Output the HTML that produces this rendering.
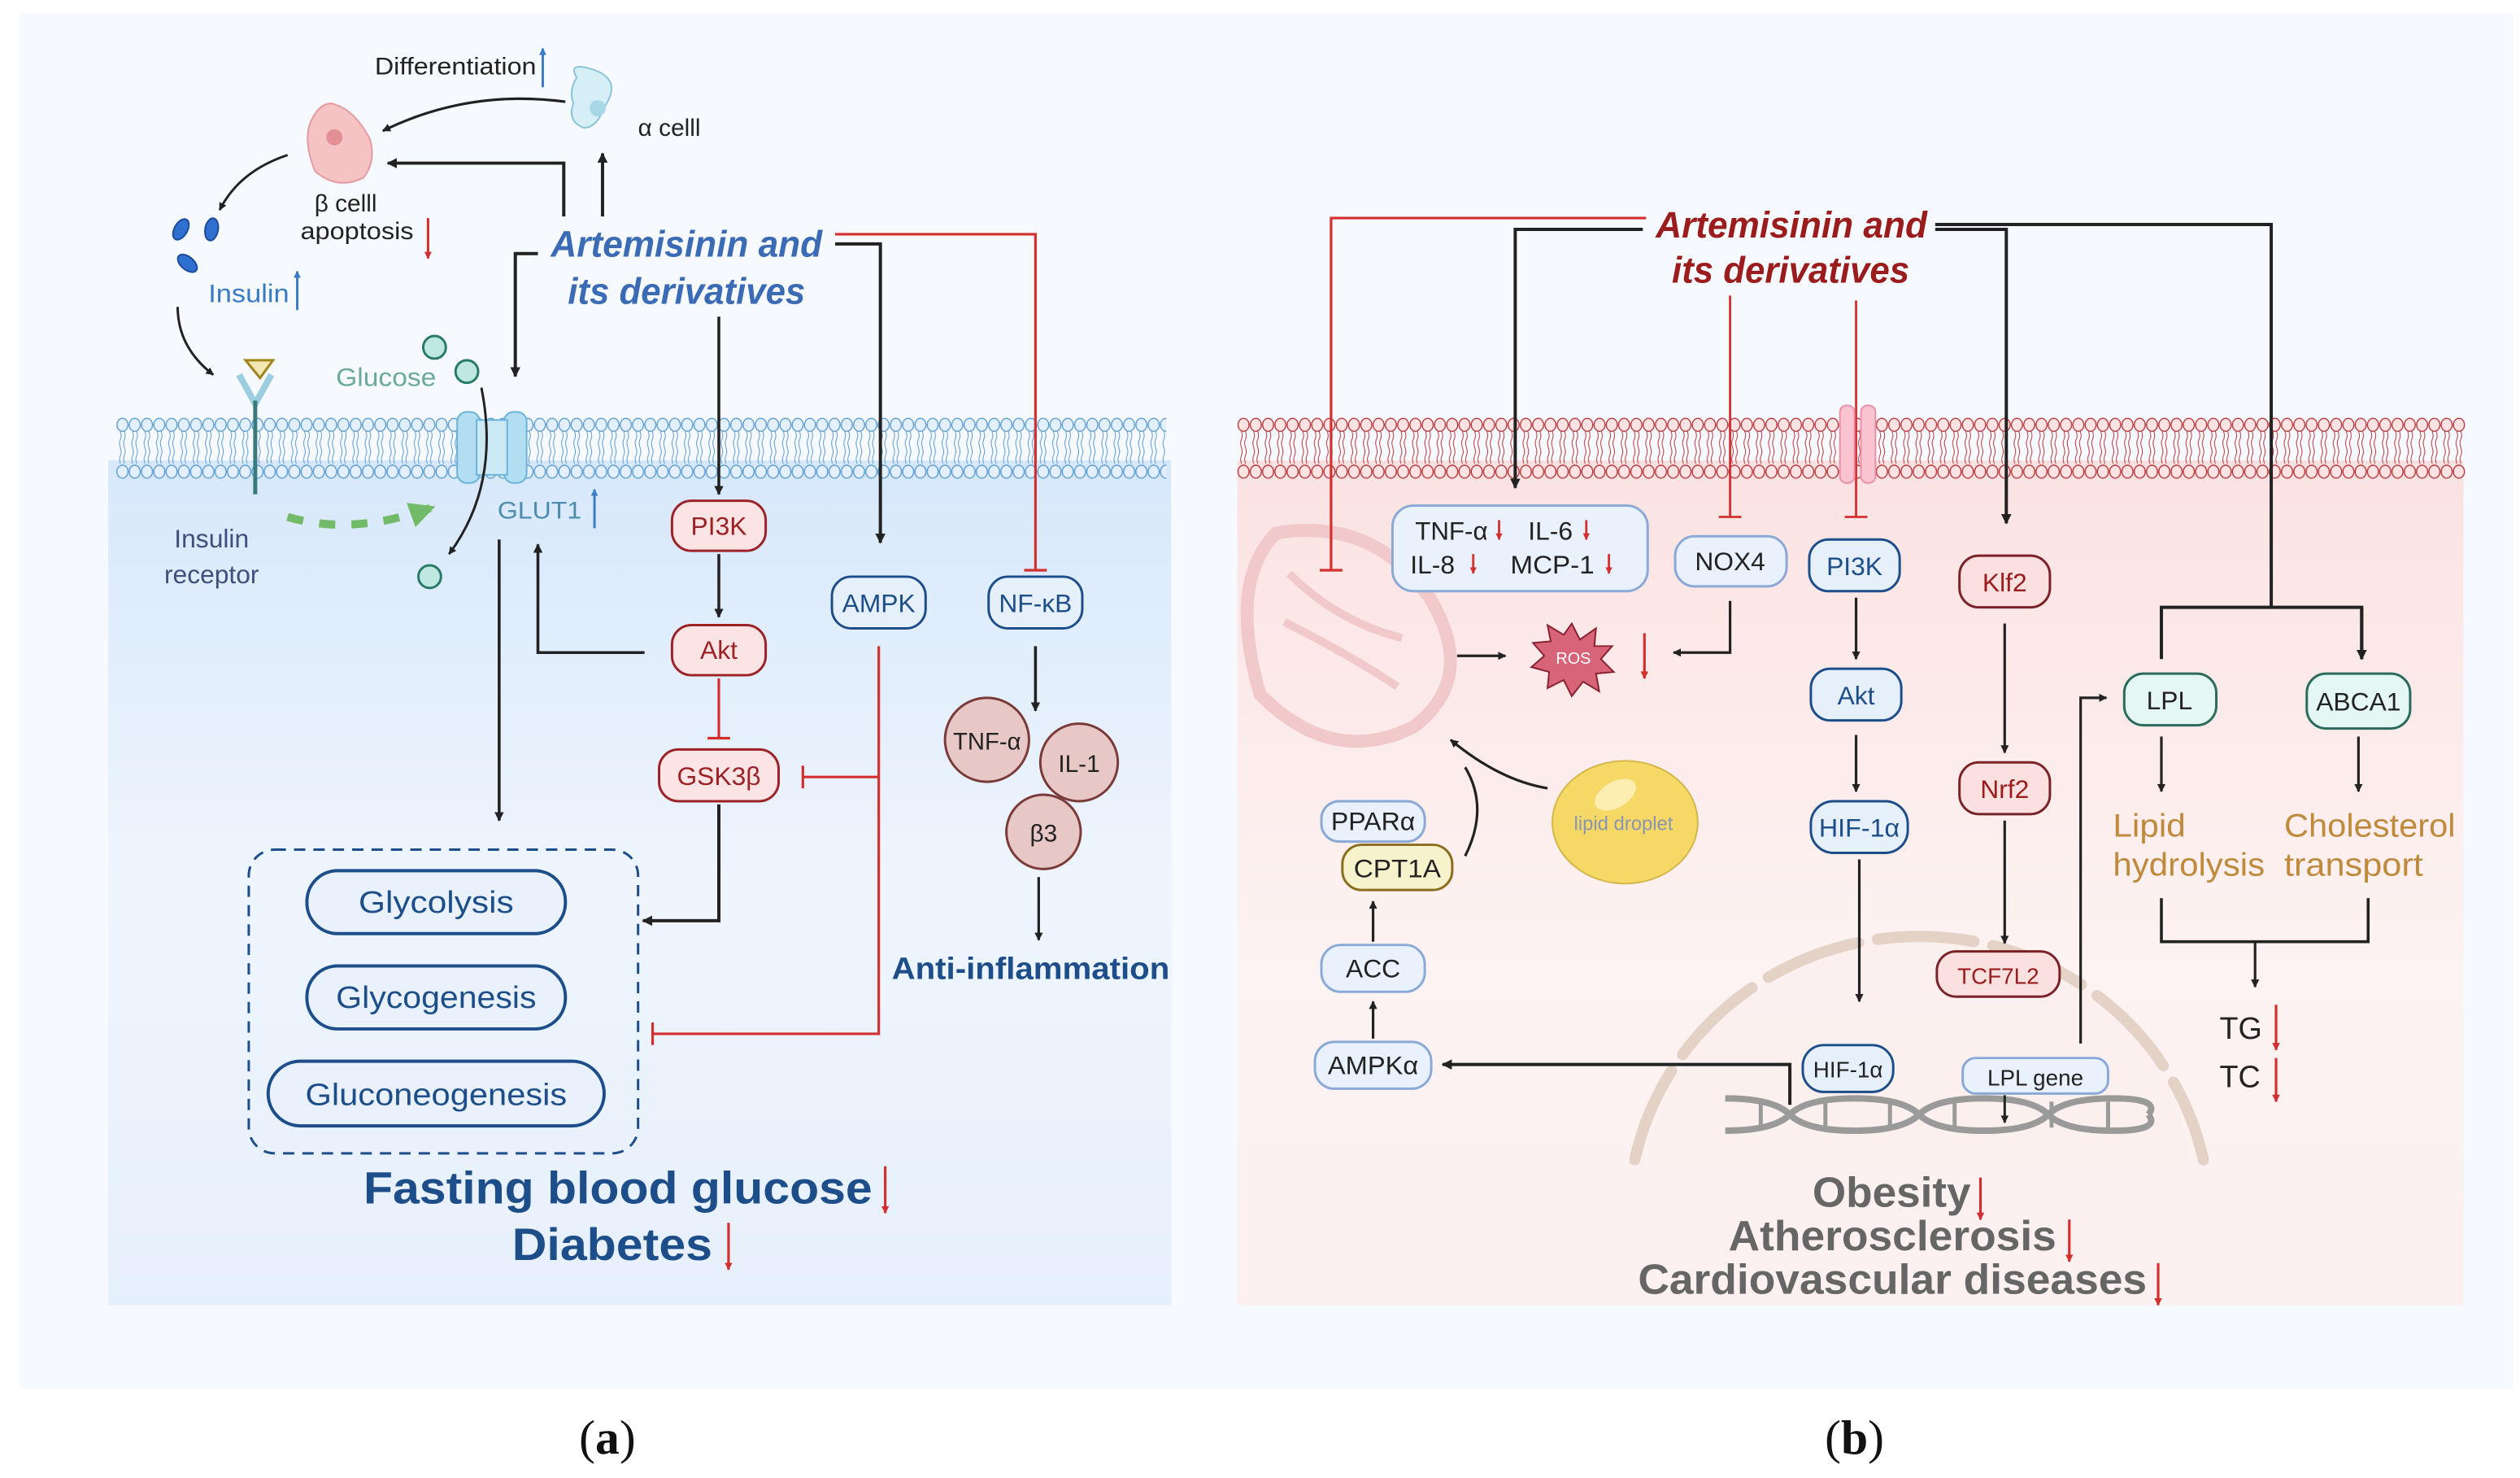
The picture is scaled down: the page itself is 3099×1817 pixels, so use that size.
<!DOCTYPE html>
<html><head><meta charset="utf-8"><style>
html,body{margin:0;padding:0;background:#fff}
svg{display:block}
text{font-family:"Liberation Sans",sans-serif}
</style></head><body>
<svg width="3099" height="1817" viewBox="0 0 1560 915" preserveAspectRatio="none" xmlns="http://www.w3.org/2000/svg">
<defs>
<marker id="a" viewBox="0 0 10 10" refX="9" refY="5" markerWidth="3.2" markerHeight="3.2" orient="auto"><path d="M0,0L10,5L0,10z" fill="#222"/></marker>
<marker id="g" viewBox="0 0 10 10" refX="9" refY="5" markerWidth="3.2" markerHeight="3.2" orient="auto"><path d="M0,0L10,5L0,10z" fill="#5fb24f"/></marker>
<marker id="r" viewBox="0 0 10 10" refX="9" refY="5" markerWidth="3" markerHeight="3" orient="auto"><path d="M0,0L10,5L0,10z" fill="#d32f2f"/></marker>
<marker id="b" viewBox="0 0 10 10" refX="9" refY="5" markerWidth="3" markerHeight="3" orient="auto"><path d="M0,0L10,5L0,10z" fill="#3a7cc4"/></marker>
<linearGradient id="gb" x1="0" y1="0" x2="0" y2="1"><stop offset="0" stop-color="#d7e8fb"/><stop offset="0.5" stop-color="#eef5fd"/><stop offset="1" stop-color="#e6f0fc"/></linearGradient>
<linearGradient id="gp" x1="0" y1="0" x2="0" y2="1"><stop offset="0" stop-color="#fbe2e2"/><stop offset="0.6" stop-color="#fdf3f2"/><stop offset="1" stop-color="#fcf0f0"/></linearGradient>
<pattern id="mb" x="72" y="258" width="7.6" height="40" patternUnits="userSpaceOnUse">
<ellipse cx="3.8" cy="5" rx="3.4" ry="4" fill="#e3f0fb" stroke="#5a9bd0" stroke-width="0.7"/>
<ellipse cx="3.8" cy="34" rx="3.4" ry="4" fill="#e3f0fb" stroke="#5a9bd0" stroke-width="0.7"/>
<path d="M2.5,9q1,3 0,5t0,5t0,5t0,5M5,9q1,3 0,5t0,5t0,5t0,5" fill="none" stroke="#5a9bd0" stroke-width="0.5"/>
</pattern>
<pattern id="mp" x="766" y="258" width="7.6" height="40" patternUnits="userSpaceOnUse">
<ellipse cx="3.8" cy="5" rx="3.4" ry="4" fill="#fbe3e3" stroke="#b5343a" stroke-width="0.7"/>
<ellipse cx="3.8" cy="34" rx="3.4" ry="4" fill="#fbe3e3" stroke="#b5343a" stroke-width="0.7"/>
<path d="M2.5,9q1,3 0,5t0,5t0,5t0,5M5,9q1,3 0,5t0,5t0,5t0,5" fill="none" stroke="#b5343a" stroke-width="0.5"/>
</pattern>
</defs>
<rect x="12" y="8" width="1544" height="852" fill="#f6f9fd"/>
<rect x="67" y="285" width="658" height="523" fill="url(#gb)"/>
<rect x="72" y="258" width="650" height="40" fill="url(#mb)"/>
<rect x="766" y="285" width="759" height="523" fill="url(#gp)"/>
<rect x="766" y="258" width="760" height="40" fill="url(#mp)"/>

<!-- ===== LEFT PANEL ===== -->
<text x="232" y="46" font-size="15" fill="#222" textLength="100" lengthAdjust="spacingAndGlyphs">Differentiation</text>
<line x1="336" y1="54" x2="336" y2="30" stroke="#3a7cc4" stroke-width="1.5" marker-end="url(#b)"/>
<path d="M357,48q-6,-10 10,-5q18,6 8,22q-6,15 -14,14q-10,-4 -6,-15q-3,-8 2,-16z" fill="#d6eef6" stroke="#8ac4dc"/>
<circle cx="370" cy="67" r="5" fill="#a8d8e8"/>
<text x="395" y="84" font-size="15" fill="#222">α celll</text>
<path d="M205,64q14,3 24,22q4,14 -4,24q-16,8 -30,-4q-8,-20 -2,-32q5,-10 12,-10z" fill="#f6c3c5" stroke="#e49aa0"/>
<circle cx="207" cy="85" r="5" fill="#e39095"/>
<path d="M350,63q-60,-8 -113,18" fill="none" stroke="#222" stroke-width="1.6" marker-end="url(#a)"/>
<path d="M349,134V101H240" fill="none" stroke="#222" stroke-width="2" marker-end="url(#a)"/>
<path d="M373,134V95" fill="none" stroke="#222" stroke-width="2" marker-end="url(#a)"/>
<text x="214" y="131" font-size="15" fill="#222" text-anchor="middle">β celll</text>
<text x="221" y="148" font-size="15" fill="#222" text-anchor="middle" textLength="70" lengthAdjust="spacingAndGlyphs">apoptosis</text>
<line x1="265" y1="135" x2="265" y2="160" stroke="#d32f2f" stroke-width="1.5" marker-end="url(#r)"/>
<path d="M178,96q-30,10 -42,34" fill="none" stroke="#222" stroke-width="1.5" marker-end="url(#a)"/>
<ellipse cx="112" cy="142" rx="4" ry="7" transform="rotate(30 112 142)" fill="#2f6fd0" stroke="#1a4a99"/>
<ellipse cx="131" cy="142" rx="4" ry="7" transform="rotate(10 131 142)" fill="#2f6fd0" stroke="#1a4a99"/>
<ellipse cx="116" cy="163" rx="4" ry="7" transform="rotate(-50 116 163)" fill="#2f6fd0" stroke="#1a4a99"/>
<text x="129" y="187" font-size="16" fill="#3a7cc4" textLength="50" lengthAdjust="spacingAndGlyphs">Insulin</text>
<line x1="184" y1="192" x2="184" y2="168" stroke="#3a7cc4" stroke-width="1.5" marker-end="url(#b)"/>
<path d="M110,190q0,25 22,42" fill="none" stroke="#222" stroke-width="1.5" marker-end="url(#a)"/>
<path d="M152,223h17l-8,11z" fill="#f2e6b3" stroke="#a0841e" stroke-width="1.5"/>
<path d="M148,232l10,18l10,-18" fill="none" stroke="#9ccde0" stroke-width="4"/>
<line x1="158" y1="248" x2="158" y2="306" stroke="#3a7a7a" stroke-width="2.5"/>
<text x="131" y="339" font-size="16" fill="#3d4f7a" text-anchor="middle">Insulin</text>
<text x="131" y="361" font-size="16" fill="#3d4f7a" text-anchor="middle">receptor</text>
<path d="M178,320q40,12 90,-6" fill="none" stroke="#5fb24f" stroke-width="5" stroke-dasharray="10,10" marker-end="url(#g)" style="opacity:.85"/>
<text x="208" y="239" font-size="16" fill="#6aaa96" textLength="62" lengthAdjust="spacingAndGlyphs">Glucose</text>
<circle cx="269" cy="215" r="7" fill="#bfe8e0" stroke="#2a7a6a" stroke-width="1.5"/>
<circle cx="289" cy="230" r="7" fill="#bfe8e0" stroke="#2a7a6a" stroke-width="1.5"/>
<circle cx="266" cy="357" r="7" fill="#bfe8e0" stroke="#2a7a6a" stroke-width="1.5"/>
<rect x="283" y="255" width="14" height="44" rx="6" fill="#b3def2" stroke="#6ab4da"/>
<rect x="312" y="255" width="14" height="44" rx="6" fill="#b3def2" stroke="#6ab4da"/>
<rect x="295" y="260" width="19" height="34" fill="#cbe8f5" stroke="#6ab4da"/>
<path d="M298,240q12,60 -20,103" fill="none" stroke="#222" stroke-width="1.5" marker-end="url(#a)"/>
<text x="308" y="321" font-size="15" fill="#4d8cb0" textLength="52" lengthAdjust="spacingAndGlyphs">GLUT1</text>
<line x1="368" y1="327" x2="368" y2="303" stroke="#3a7cc4" stroke-width="1.5" marker-end="url(#b)"/>
<text x="425" y="159" font-size="23" font-weight="bold" font-style="italic" fill="#3b6bb5" text-anchor="middle" textLength="168" lengthAdjust="spacingAndGlyphs">Artemisinin and</text>
<text x="425" y="188" font-size="23" font-weight="bold" font-style="italic" fill="#3b6bb5" text-anchor="middle" textLength="147" lengthAdjust="spacingAndGlyphs">its derivatives</text>
<path d="M333,157H319V233" fill="none" stroke="#222" stroke-width="2" marker-end="url(#a)"/>
<path d="M517,151H545V336" fill="none" stroke="#222" stroke-width="2" marker-end="url(#a)"/>
<path d="M517,145H641V353M634,353h14" fill="none" stroke="#d32f2f" stroke-width="1.6"/>
<line x1="445" y1="196" x2="445" y2="306" stroke="#222" stroke-width="1.8" marker-end="url(#a)"/>
<g font-size="16" text-anchor="middle">
<rect x="416" y="310" width="58" height="31" rx="12" fill="#fde4e4" stroke="#9b2226" stroke-width="1.5"/><text x="445" y="331" fill="#9b2226">PI3K</text>
<rect x="416" y="387" width="58" height="31" rx="12" fill="#fde4e4" stroke="#9b2226" stroke-width="1.5"/><text x="445" y="408" fill="#9b2226">Akt</text>
<rect x="408" y="464" width="74" height="32" rx="12" fill="#fde4e4" stroke="#9b2226" stroke-width="1.5"/><text x="445" y="486" fill="#9b2226">GSK3β</text>
<rect x="515" y="357" width="58" height="32" rx="12" fill="#e6f0fb" stroke="#1d4e89" stroke-width="1.5"/><text x="544" y="379" fill="#1d4e89">AMPK</text>
<rect x="612" y="357" width="58" height="32" rx="12" fill="#e6f0fb" stroke="#1d4e89" stroke-width="1.5"/><text x="641" y="379" fill="#1d4e89">NF-κB</text>
</g>
<line x1="445" y1="343" x2="445" y2="382" stroke="#222" stroke-width="1.8" marker-end="url(#a)"/>
<path d="M399,404H333V337" fill="none" stroke="#222" stroke-width="1.8" marker-end="url(#a)"/>
<path d="M309,334V508" fill="none" stroke="#222" stroke-width="1.8" marker-end="url(#a)"/>
<path d="M445,420V457M438,457h14" fill="none" stroke="#d32f2f" stroke-width="1.6"/>
<path d="M445,498V570H398" fill="none" stroke="#222" stroke-width="2" marker-end="url(#a)"/>
<path d="M544,400V640H404M404,633v14M544,481H497M497,474v14" fill="none" stroke="#d32f2f" stroke-width="1.6"/>
<line x1="641" y1="400" x2="641" y2="440" stroke="#222" stroke-width="1.8" marker-end="url(#a)"/>
<g font-size="15" text-anchor="middle" fill="#222">
<circle cx="611" cy="458" r="26" fill="#e7c8c6" stroke="#7a3b38" stroke-width="1.5"/><text x="611" y="464" textLength="42" lengthAdjust="spacingAndGlyphs">TNF-α</text>
<circle cx="668" cy="472" r="24" fill="#e7c8c6" stroke="#7a3b38" stroke-width="1.5"/><text x="668" y="478">IL-1</text>
<circle cx="646" cy="515" r="23" fill="#e7c8c6" stroke="#7a3b38" stroke-width="1.5"/><text x="646" y="521">β3</text>
</g>
<line x1="643" y1="543" x2="643" y2="582" stroke="#222" stroke-width="1.6" marker-end="url(#a)"/>
<text x="638" y="606" font-size="19" font-weight="bold" fill="#1d4e89" text-anchor="middle" textLength="172" lengthAdjust="spacingAndGlyphs">Anti-inflammation</text>
<rect x="154" y="526" width="241" height="188" rx="16" fill="none" stroke="#1d4e89" stroke-width="1.5" stroke-dasharray="7,5"/>
<g font-size="19" fill="#1d4e89" text-anchor="middle">
<rect x="190" y="539" width="160" height="39" rx="19" fill="#e9f2fc" stroke="#1d4e89" stroke-width="2"/><text x="270" y="565" textLength="96" lengthAdjust="spacingAndGlyphs">Glycolysis</text>
<rect x="190" y="598" width="160" height="39" rx="19" fill="#e9f2fc" stroke="#1d4e89" stroke-width="2"/><text x="270" y="624" textLength="124" lengthAdjust="spacingAndGlyphs">Glycogenesis</text>
<rect x="166" y="657" width="208" height="40" rx="20" fill="#e9f2fc" stroke="#1d4e89" stroke-width="2"/><text x="270" y="684" textLength="162" lengthAdjust="spacingAndGlyphs">Gluconeogenesis</text>
</g>
<text x="225" y="745" font-size="28" font-weight="bold" fill="#1d4e89" textLength="315" lengthAdjust="spacingAndGlyphs">Fasting blood glucose</text>
<line x1="548" y1="722" x2="548" y2="751" stroke="#d32f2f" stroke-width="1.6" marker-end="url(#r)"/>
<text x="317" y="780" font-size="28" font-weight="bold" fill="#1d4e89" textLength="124" lengthAdjust="spacingAndGlyphs">Diabetes</text>
<line x1="451" y1="757" x2="451" y2="786" stroke="#d32f2f" stroke-width="1.6" marker-end="url(#r)"/>

<!-- ===== RIGHT PANEL ===== -->
<path d="M790,330q60,-10 95,40q30,50 -10,80q-50,25 -95,-20q-20,-70 10,-100z" fill="none" stroke="#f2c9cb" stroke-width="8"/>
<path d="M798,355q30,30 70,40M795,385q40,20 70,40" fill="none" stroke="#f2c9cb" stroke-width="5"/>
<path d="M1020,718a170,165 0 0 1 336,0V718z" fill="#faeeec" opacity="0.6"/>
<path d="M1012,718a180,175 0 0 1 352,0" fill="none" stroke="#e4d2c6" stroke-width="7" stroke-dasharray="60,12" stroke-linecap="round"/>
<text x="1025" y="147" font-size="23" font-weight="bold" font-style="italic" fill="#9b1c1c" textLength="168" lengthAdjust="spacingAndGlyphs">Artemisinin and</text>
<text x="1035" y="175" font-size="23" font-weight="bold" font-style="italic" fill="#9b1c1c" textLength="147" lengthAdjust="spacingAndGlyphs">its derivatives</text>
<path d="M1019,135H824V353M817,353h14" fill="none" stroke="#d32f2f" stroke-width="1.6"/>
<path d="M1017,142H938V302" fill="none" stroke="#222" stroke-width="2" marker-end="url(#a)"/>
<path d="M1198,139H1406V376H1338V408M1406,376H1462V408" fill="none" stroke="#222" stroke-width="2" marker-end="url(#a)"/>
<path d="M1462,376V408" fill="none" stroke="#222" stroke-width="2" marker-end="url(#a)"/>
<path d="M1198,142H1242V324" fill="none" stroke="#222" stroke-width="2" marker-end="url(#a)"/>
<path d="M1071,183V320M1064,320h14M1149,186V320M1142,320h14" fill="none" stroke="#d32f2f" stroke-width="1.4"/>
<rect x="1139" y="251" width="9" height="48" rx="4" fill="#f9c4d0" stroke="#e890a8"/>
<rect x="1152" y="251" width="9" height="48" rx="4" fill="#f9c4d0" stroke="#e890a8"/>
<g font-size="16" text-anchor="middle">
<rect x="862" y="313" width="158" height="53" rx="13" fill="#e8f1fc" stroke="#8aa9d6" stroke-width="1.5"/>
<text x="876" y="334" text-anchor="start" fill="#222" textLength="45" lengthAdjust="spacingAndGlyphs">TNF-α</text><text x="946" y="334" text-anchor="start" fill="#222">IL-6</text>
<text x="873" y="355" text-anchor="start" fill="#222">IL-8</text><text x="935" y="355" text-anchor="start" fill="#222" textLength="52" lengthAdjust="spacingAndGlyphs">MCP-1</text>
<rect x="1037" y="332" width="69" height="31" rx="12" fill="#e8f1fc" stroke="#8aa9d6" stroke-width="1.5"/><text x="1071" y="353" fill="#222">NOX4</text>
<rect x="1120" y="334" width="56" height="32" rx="12" fill="#e6f0fb" stroke="#1d4e89" stroke-width="1.5"/><text x="1148" y="356" fill="#1d4e89">PI3K</text>
<rect x="1121" y="414" width="56" height="32" rx="12" fill="#e6f0fb" stroke="#1d4e89" stroke-width="1.5"/><text x="1149" y="436" fill="#1d4e89">Akt</text>
<rect x="1121" y="496" width="60" height="32" rx="14" fill="#e6f0fb" stroke="#1d4e89" stroke-width="1.5"/><text x="1151" y="518" fill="#1d4e89" textLength="50" lengthAdjust="spacingAndGlyphs">HIF-1α</text>
<rect x="1116" y="647" width="56" height="29" rx="13" fill="#e6f0fb" stroke="#1d4e89" stroke-width="1.5"/><text x="1144" y="667" font-size="14" fill="#222">HIF-1α</text>
<rect x="1213" y="344" width="56" height="32" rx="12" fill="#fbe0e0" stroke="#7a2228" stroke-width="1.5"/><text x="1241" y="366" fill="#9b1c1c">Klf2</text>
<rect x="1213" y="472" width="56" height="32" rx="12" fill="#fbe0e0" stroke="#7a2228" stroke-width="1.5"/><text x="1241" y="494" fill="#9b1c1c">Nrf2</text>
<rect x="1199" y="589" width="76" height="28" rx="12" fill="#fbe0e0" stroke="#7a2228" stroke-width="1.5"/><text x="1237" y="609" font-size="14" fill="#9b1c1c">TCF7L2</text>
<rect x="1215" y="655" width="90" height="22" rx="8" fill="#e8f1fc" stroke="#8aa9d6" stroke-width="1.5"/><text x="1260" y="672" font-size="14" fill="#222">LPL gene</text>
<rect x="1315" y="417" width="57" height="32" rx="12" fill="#e5f7f2" stroke="#2a6b5c" stroke-width="1.5"/><text x="1343" y="439" fill="#222">LPL</text>
<rect x="1428" y="417" width="64" height="34" rx="12" fill="#e5f7f2" stroke="#2a6b5c" stroke-width="1.5"/><text x="1460" y="440" fill="#222">ABCA1</text>
<rect x="818" y="496" width="64" height="25" rx="11" fill="#e8f1fc" stroke="#8aa9d6" stroke-width="1.5"/><text x="850" y="514" fill="#222" textLength="52" lengthAdjust="spacingAndGlyphs">PPARα</text>
<rect x="831" y="523" width="68" height="28" rx="12" fill="#f6f2cc" stroke="#8a6d1e" stroke-width="1.5"/><text x="865" y="543" fill="#222" textLength="54" lengthAdjust="spacingAndGlyphs">CPT1A</text>
<rect x="818" y="585" width="64" height="29" rx="12" fill="#e8f1fc" stroke="#8aa9d6" stroke-width="1.5"/><text x="850" y="605" fill="#222">ACC</text>
<rect x="814" y="645" width="72" height="29" rx="12" fill="#e8f1fc" stroke="#8aa9d6" stroke-width="1.5"/><text x="850" y="665" fill="#222" textLength="56" lengthAdjust="spacingAndGlyphs">AMPKα</text>
</g>
<g stroke="#d32f2f" stroke-width="1.4"><line x1="928" y1="322" x2="928" y2="334" marker-end="url(#r)"/><line x1="982" y1="322" x2="982" y2="334" marker-end="url(#r)"/><line x1="912" y1="343" x2="912" y2="355" marker-end="url(#r)"/><line x1="996" y1="343" x2="996" y2="355" marker-end="url(#r)"/></g>
<polygon points="973,386 978,396 988,389 987,400 998,400 991,408 999,416 988,417 990,428 980,422 973,431 968,421 958,426 959,416 948,413 956,406 949,398 960,397 958,387 968,393" fill="#d76478" stroke="#8a2230"/>
<text x="974" y="411" font-size="10" fill="#fff" text-anchor="middle">ROS</text>
<line x1="1018" y1="392" x2="1018" y2="420" stroke="#d32f2f" stroke-width="1.6" marker-end="url(#r)"/>
<line x1="902" y1="406" x2="932" y2="406" stroke="#222" stroke-width="1.6" marker-end="url(#a)"/>
<path d="M1071,372V404H1036" fill="none" stroke="#222" stroke-width="1.6" marker-end="url(#a)"/>
<line x1="1149" y1="370" x2="1149" y2="408" stroke="#222" stroke-width="1.6" marker-end="url(#a)"/>
<line x1="1149" y1="455" x2="1149" y2="490" stroke="#222" stroke-width="1.6" marker-end="url(#a)"/>
<line x1="1151" y1="532" x2="1151" y2="620" stroke="#222" stroke-width="1.6" marker-end="url(#a)"/>
<line x1="1241" y1="386" x2="1241" y2="466" stroke="#222" stroke-width="1.6" marker-end="url(#a)"/>
<line x1="1241" y1="508" x2="1241" y2="584" stroke="#222" stroke-width="1.6" marker-end="url(#a)"/>
<path d="M1288,646V432H1304" fill="none" stroke="#222" stroke-width="1.6" marker-end="url(#a)"/>
<path d="M1108,684V659H893" fill="none" stroke="#222" stroke-width="2" marker-end="url(#a)"/>
<line x1="850" y1="643" x2="850" y2="620" stroke="#222" stroke-width="1.6" marker-end="url(#a)"/>
<line x1="850" y1="583" x2="850" y2="558" stroke="#222" stroke-width="1.6" marker-end="url(#a)"/>
<path d="M907,530q15,-30 0,-55" fill="none" stroke="#222" stroke-width="1.6"/>
<path d="M958,488q-30,-5 -60,-30" fill="none" stroke="#222" stroke-width="1.6" marker-end="url(#a)"/>
<ellipse cx="1006" cy="509" rx="45" ry="38" fill="#f6d866" stroke="#d4b64a"/>
<ellipse cx="1000" cy="492" rx="14" ry="8" fill="#fbeeb0" transform="rotate(-30 1000 492)"/>
<text x="1005" y="514" font-size="12" fill="#8a95b0" text-anchor="middle">lipid droplet</text>
<g fill="none" stroke="#9a9a9a" stroke-width="4">
<path d="M1068,680q30,0 40,10t40,10t40,-10t40,-10t40,10t40,10t22,-10"/>
<path d="M1068,700q30,0 40,-10t40,-10t40,10t40,10t40,-10t40,-10t22,10"/>
</g>
<g stroke="#9a9a9a" stroke-width="2.5"><line x1="1090" y1="682" x2="1090" y2="698"/><line x1="1130" y1="682" x2="1130" y2="698"/><line x1="1170" y1="682" x2="1170" y2="698"/><line x1="1210" y1="682" x2="1210" y2="698"/><line x1="1270" y1="682" x2="1270" y2="698"/><line x1="1305" y1="682" x2="1305" y2="698"/></g>
<line x1="1241" y1="678" x2="1241" y2="695" stroke="#222" stroke-width="1.5" marker-end="url(#a)"/>
<line x1="1338" y1="456" x2="1338" y2="490" stroke="#222" stroke-width="1.6" marker-end="url(#a)"/>
<line x1="1460" y1="456" x2="1460" y2="490" stroke="#222" stroke-width="1.6" marker-end="url(#a)"/>
<text x="1308" y="518" font-size="20" fill="#bf8a3c" textLength="45" lengthAdjust="spacingAndGlyphs">Lipid</text>
<text x="1308" y="542" font-size="20" fill="#bf8a3c" textLength="94" lengthAdjust="spacingAndGlyphs">hydrolysis</text>
<text x="1414" y="518" font-size="20" fill="#bf8a3c" textLength="106" lengthAdjust="spacingAndGlyphs">Cholesterol</text>
<text x="1414" y="542" font-size="20" fill="#bf8a3c" textLength="86" lengthAdjust="spacingAndGlyphs">transport</text>
<path d="M1338,556V583H1466V556" fill="none" stroke="#222" stroke-width="1.8"/>
<line x1="1396" y1="583" x2="1396" y2="611" stroke="#222" stroke-width="1.6" marker-end="url(#a)"/>
<text x="1374" y="643" font-size="19" fill="#222">TG</text>
<text x="1374" y="673" font-size="19" fill="#222">TC</text>
<line x1="1409" y1="622" x2="1409" y2="650" stroke="#d32f2f" stroke-width="1.6" marker-end="url(#r)"/>
<line x1="1409" y1="655" x2="1409" y2="682" stroke="#d32f2f" stroke-width="1.6" marker-end="url(#r)"/>
<g font-size="26" font-weight="bold" fill="#666">
<text x="1122" y="747" textLength="98" lengthAdjust="spacingAndGlyphs">Obesity</text>
<text x="1070" y="774" textLength="203" lengthAdjust="spacingAndGlyphs">Atherosclerosis</text>
<text x="1014" y="801" textLength="315" lengthAdjust="spacingAndGlyphs">Cardiovascular diseases</text>
</g>
<g stroke="#d32f2f" stroke-width="1.6"><line x1="1226" y1="729" x2="1226" y2="755" marker-end="url(#r)"/><line x1="1281" y1="755" x2="1281" y2="781" marker-end="url(#r)"/><line x1="1336" y1="782" x2="1336" y2="808" marker-end="url(#r)"/></g>
<text x="376" y="900" font-size="30" fill="#111" text-anchor="middle" style="font-family:'Liberation Serif',serif">(<tspan font-weight="bold">a</tspan>)</text>
<text x="1148" y="900" font-size="30" fill="#111" text-anchor="middle" style="font-family:'Liberation Serif',serif">(<tspan font-weight="bold">b</tspan>)</text>
</svg>
</body></html>
